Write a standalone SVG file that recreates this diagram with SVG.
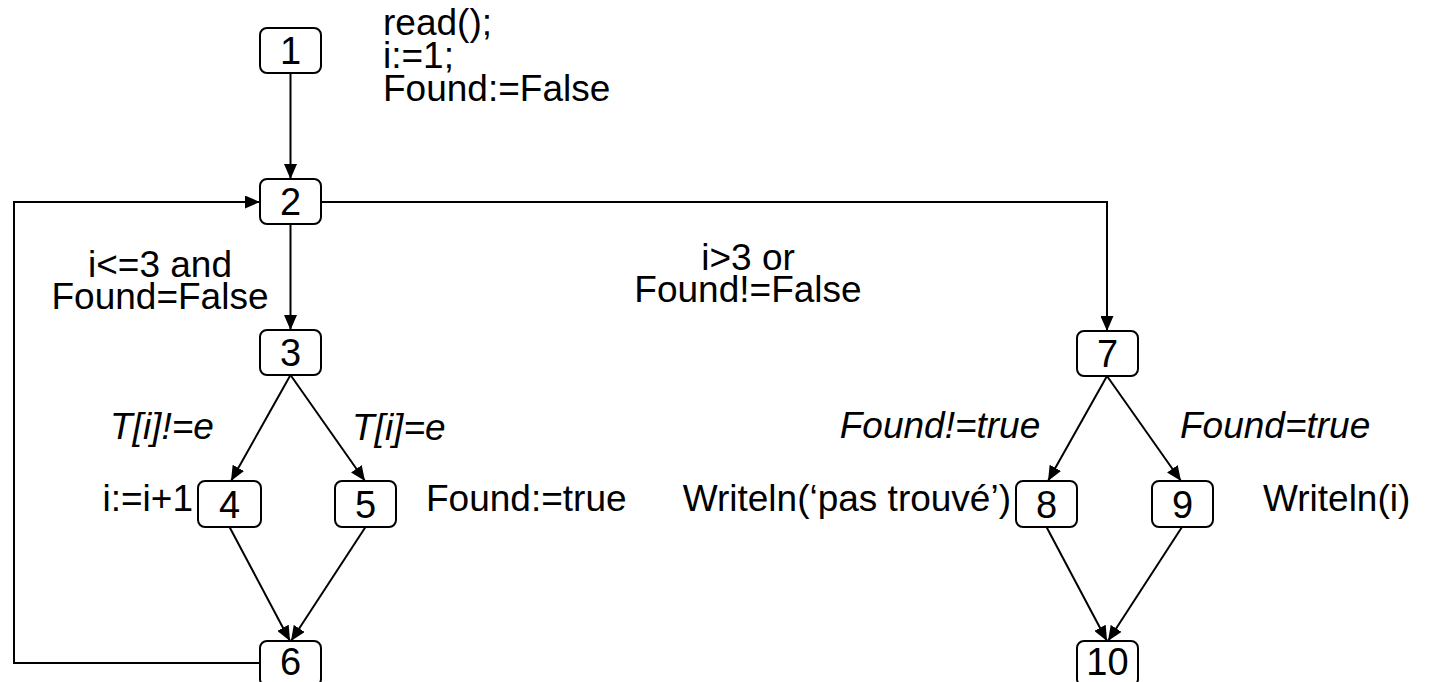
<svg xmlns="http://www.w3.org/2000/svg" width="1430" height="682" viewBox="0 0 1430 682">
<defs>
<marker id="ah" markerWidth="15" markerHeight="13" refX="15" refY="6.5" orient="auto" markerUnits="userSpaceOnUse">
<path d="M0,0 L15,6.5 L0,13 Z" fill="#000"/>
</marker>
<style>
.box{fill:#fff;stroke:#000;stroke-width:2}
.num{font-family:"Liberation Sans",Arial,sans-serif;font-size:38px;text-anchor:middle;fill:#000}
.t{font-family:"Liberation Sans",Arial,sans-serif;font-size:37px;fill:#000}
.c{text-anchor:middle}
.e{text-anchor:end}
.it{font-style:italic}
.ln{fill:none;stroke:#000;stroke-width:2;marker-end:url(#ah)}
</style>
</defs>
<rect width="1430" height="682" fill="#fff"/>
<g id="connectors">
<line class="ln" x1="290.5" y1="73" x2="290.5" y2="179"/>
<line class="ln" x1="290.5" y1="224" x2="290.5" y2="330"/>
<path class="ln" d="M321,202 H1107 V331"/>
<line class="ln" x1="290.5" y1="375" x2="231" y2="481"/>
<line class="ln" x1="290.5" y1="375" x2="365" y2="481"/>
<line class="ln" x1="229.5" y1="527" x2="290" y2="641"/>
<line class="ln" x1="365.5" y1="527" x2="291" y2="641"/>
<path class="ln" d="M260,663 H14 V202 H260"/>
<line class="ln" x1="1107" y1="376" x2="1048" y2="481"/>
<line class="ln" x1="1107" y1="376" x2="1181" y2="481"/>
<line class="ln" x1="1046.5" y1="527" x2="1107" y2="641"/>
<line class="ln" x1="1182" y1="527" x2="1108" y2="641"/>
</g>
<g id="node1"><rect class="box" x="260" y="28" width="61" height="45" rx="7"/><text class="num" x="290.5" y="64">1</text></g>
<g id="node2"><rect class="box" x="260" y="179" width="61" height="45" rx="7"/><text class="num" x="290.5" y="215">2</text></g>
<g id="node3"><rect class="box" x="260" y="330" width="61" height="45" rx="7"/><text class="num" x="290.5" y="366">3</text></g>
<g id="node4"><rect class="box" x="198" y="481" width="63" height="46" rx="7"/><text class="num" x="229.5" y="518">4</text></g>
<g id="node5"><rect class="box" x="335" y="481" width="61" height="46" rx="7"/><text class="num" x="365.5" y="518">5</text></g>
<g id="node6"><rect class="box" x="260" y="641" width="61" height="45" rx="7"/><text class="num" x="290.5" y="675">6</text></g>
<g id="node7"><rect class="box" x="1077" y="331" width="61" height="45" rx="7"/><text class="num" x="1107.5" y="367">7</text></g>
<g id="node8"><rect class="box" x="1016" y="481" width="61" height="46" rx="7"/><text class="num" x="1046.5" y="518">8</text></g>
<g id="node9"><rect class="box" x="1152" y="481" width="61" height="46" rx="7"/><text class="num" x="1182.5" y="518">9</text></g>
<g id="node10"><rect class="box" x="1077" y="641" width="61" height="45" rx="7"/><text class="num" x="1107.5" y="675">10</text></g>
<g id="labels">
<text class="t" x="383" y="35">read();</text>
<text class="t" x="383" y="68">i:=1;</text>
<text class="t" x="383" y="101">Found:=False</text>
<text class="t c" x="160" y="277">i&lt;=3 and</text>
<text class="t c" x="160" y="309">Found=False</text>
<text class="t c" x="748" y="270">i&gt;3 or</text>
<text class="t c" x="748" y="302">Found!=False</text>
<text class="t it" x="110" y="439">T[i]!=e</text>
<text class="t it" x="352" y="440">T[i]=e</text>
<text class="t e" x="193" y="511">i:=i+1</text>
<text class="t" x="426" y="511">Found:=true</text>
<text class="t e" x="1011" y="511">Writeln(‘pas trouvé’)</text>
<text class="t" x="1263" y="511">Writeln(i)</text>
<text class="t it c" x="940" y="438">Found!=true</text>
<text class="t it" x="1180" y="438">Found=true</text>
</g>
</svg>
